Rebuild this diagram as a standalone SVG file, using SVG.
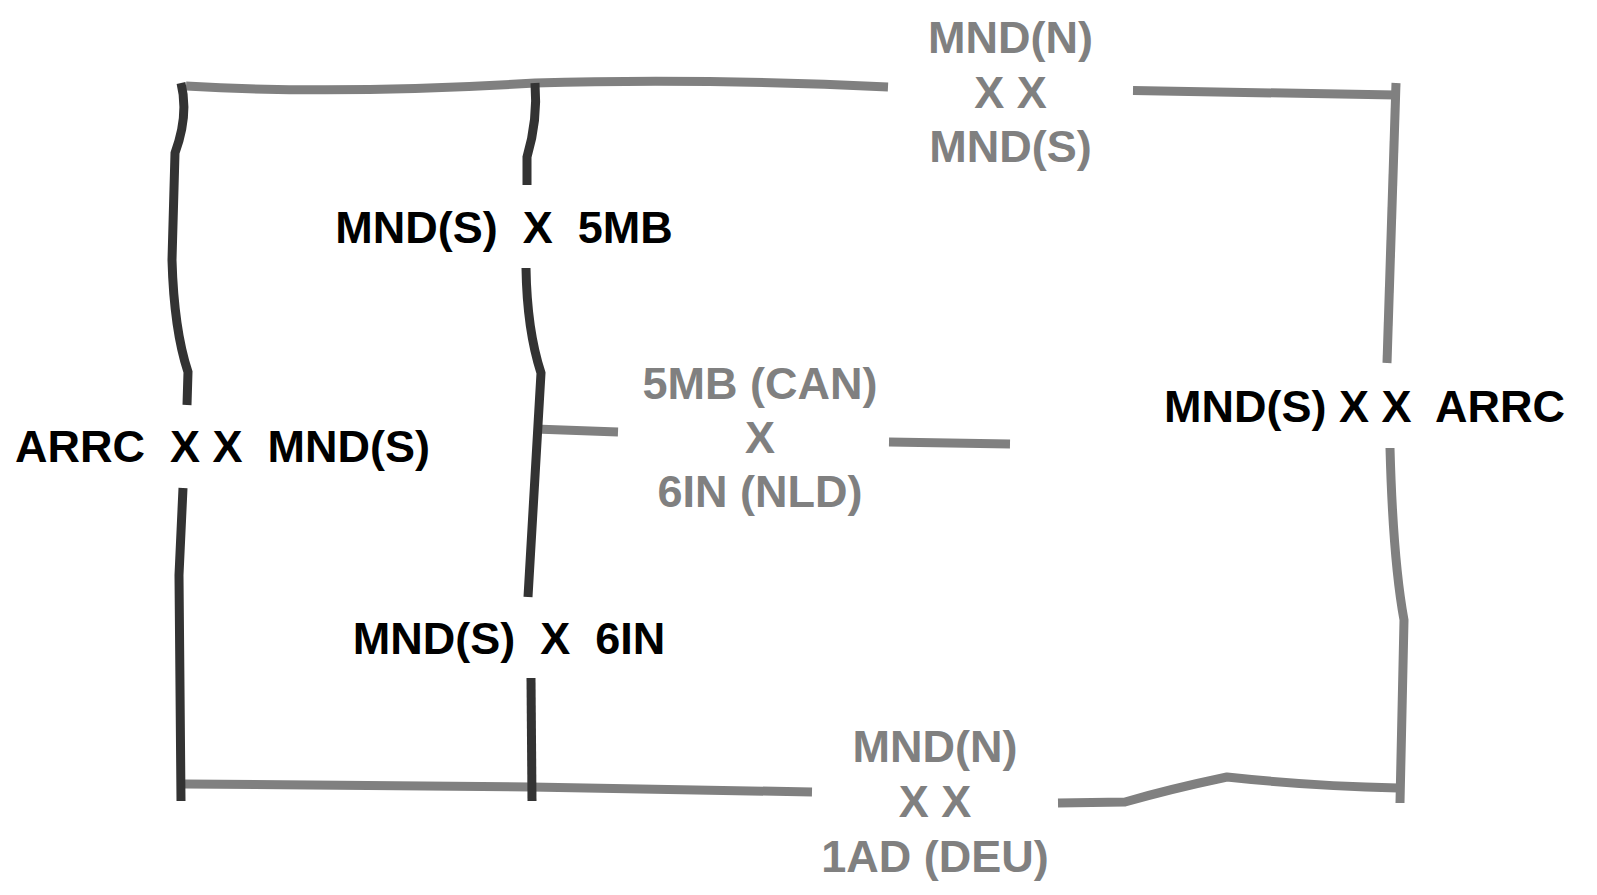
<svg xmlns="http://www.w3.org/2000/svg" width="1597" height="895" viewBox="0 0 1597 895">
<style>
.t{font-family:"Liberation Sans",Arial,sans-serif;font-weight:bold;font-size:45px;white-space:pre;text-anchor:middle}
.blk{fill:#000}
.gry{fill:#808080}
.dk{fill:none;stroke:#333333;stroke-linecap:butt;stroke-linejoin:miter}
.lt{fill:none;stroke:#808080;stroke-linecap:butt;stroke-linejoin:miter}
</style>
<rect width="1597" height="895" fill="#ffffff"/>
<g id="connectors" stroke-width="9">
<path class="lt" stroke-width="9" d="M186,86 Q340,95 535,83 Q700,78 888,87"/>
<path class="lt" stroke-width="9" d="M1133,90.5 L1396,95"/>
<path class="lt" stroke-width="9" d="M185,784 L531,787 L812,792"/>
<path class="lt" stroke-width="9" d="M1058,803 L1125,802 Q1170,789 1227,777 Q1310,786 1398,788"/>
<path class="lt" stroke-width="9" d="M535,429 L618,432"/>
<path class="lt" stroke-width="9" d="M889,442 L1010,444"/>
<path class="lt" stroke-width="9" d="M1396,83 L1387,363"/>
<path class="lt" stroke-width="9" d="M1390,448 Q1393,560 1404,620 L1400,803"/>
<path class="dk" stroke-width="9" d="M181,83 Q189,115 175,153 L172,260 Q174,330 188,372 L187,405"/>
<path class="dk" stroke-width="9" d="M183,488 L179,575 L181,801"/>
<path class="dk" stroke-width="9" d="M535,83 Q538,120 527,157 L527,185"/>
<path class="dk" stroke-width="9" d="M526,268 Q527,330 541,373 L528,597"/>
<path class="dk" stroke-width="9" d="M531,678 L532,801"/>
</g>
<g id="node-mnds-5mb">
<text class="t blk" x="504" y="243">MND(S)  X  5MB</text>
</g>
<g id="node-mndn-mnds">
<text class="t gry" x="1010.5" y="53">MND(N)</text>
<text class="t gry" x="1010.5" y="108">X X</text>
<text class="t gry" x="1010.5" y="162">MND(S)</text>
</g>
<g id="node-arrc-mnds">
<text class="t blk" x="222.5" y="462">ARRC  X X  MND(S)</text>
</g>
<g id="node-5mb-6in">
<text class="t gry" x="760" y="399">5MB (CAN)</text>
<text class="t gry" x="760" y="453">X</text>
<text class="t gry" x="760" y="507">6IN (NLD)</text>
</g>
<g id="node-mnds-arrc">
<text class="t blk" x="1364.5" y="422">MND(S) X X  ARRC</text>
</g>
<g id="node-mnds-6in">
<text class="t blk" x="509" y="654">MND(S)  X  6IN</text>
</g>
<g id="node-mndn-1ad">
<text class="t gry" x="935" y="762">MND(N)</text>
<text class="t gry" x="935" y="817">X X</text>
<text class="t gry" x="935" y="872">1AD (DEU)</text>
</g>
</svg>
